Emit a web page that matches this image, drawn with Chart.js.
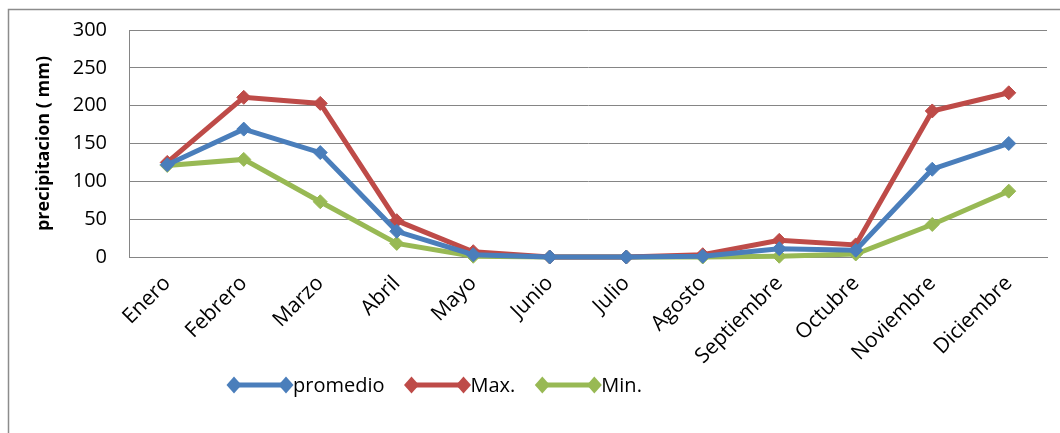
<!DOCTYPE html>
<html>
<head>
<meta charset="utf-8">
<script src="https://cdn.jsdelivr.net/npm/chart.js@4/dist/chart.umd.min.js"></script>
<style>
  html, body { margin: 0; padding: 0; background: #ffffff; }
  #wrap { width: 1060px; height: 433px; position: relative; }
</style>
</head>
<body>
<div id="wrap"><canvas id="c" width="1060" height="433"></canvas></div>
<script>
// Months on the category axis
const meses = ['Enero', 'Febrero', 'Marzo', 'Abril', 'Mayo', 'Junio', 'Julio',
  'Agosto', 'Septiembre', 'Octubre', 'Noviembre', 'Diciembre'];

// Monthly precipitation (mm)
const promedio = [122, 169, 138, 34, 3, 0, 0, 1, 11, 9, 116, 150];
const maximo   = [125, 211, 203, 48, 7, 0, 0, 3, 22, 16, 193, 217];
const minimo   = [121, 129, 73, 18, 1, 0, 0, 0, 1, 4, 43, 87];

// Value axis ticks
const yTicks = [0, 50, 100, 150, 200, 250, 300];

const FONT = '"Open Sans", "DejaVu Sans", sans-serif';
const GRID = '#858585';

function serie(label, data, color) {
  return {
    label, data,
    borderColor: color, backgroundColor: color,
    borderWidth: 5,
    pointStyle: 'rectRot', pointRadius: 7, pointHoverRadius: 7,
    pointBorderWidth: 1, pointBorderColor: color, pointBackgroundColor: color,
    tension: 0, clip: false
  };
}

// Outer frame (top and left edges)
const frame = {
  id: 'frame',
  beforeDraw(chart) {
    const ctx = chart.ctx;
    ctx.save();
    ctx.strokeStyle = '#8c8c8c';
    ctx.lineWidth = 1.5;
    ctx.beginPath();
    ctx.moveTo(8.5, 433);
    ctx.lineTo(8.5, 9.5);
    ctx.lineTo(1060, 9.5);
    ctx.stroke();
    ctx.restore();
  }
};

// Bottom legend: line with a diamond at each end, label right after
const lineLegend = {
  id: 'lineLegend',
  afterDraw(chart) {
    const ctx = chart.ctx;
    const y = 385;
    let x = 227;
    ctx.save();
    ctx.font = '20px ' + FONT;
    ctx.textBaseline = 'middle';
    chart.data.datasets.forEach(ds => {
      const c = ds.borderColor;
      ctx.strokeStyle = c;
      ctx.fillStyle = c;
      ctx.lineWidth = 5;
      ctx.beginPath();
      ctx.moveTo(x + 7, y);
      ctx.lineTo(x + 59, y);
      ctx.stroke();
      [x + 7, x + 59].forEach(cx => {
        ctx.beginPath();
        ctx.moveTo(cx - 7.5, y);
        ctx.lineTo(cx, y - 8.5);
        ctx.lineTo(cx + 7.5, y);
        ctx.lineTo(cx, y + 8.5);
        ctx.closePath();
        ctx.fill();
      });
      ctx.fillStyle = '#000000';
      ctx.fillText(ds.label, x + 66, y + 1);
      x += 66 + ctx.measureText(ds.label).width + 20;
    });
    ctx.restore();
  }
};

new Chart(document.getElementById('c'), {
  type: 'line',
  data: {
    labels: meses,
    datasets: [
      serie('promedio', promedio, '#4a7ebb'),
      serie('Max.', maximo, '#be4b48'),
      serie('Min.', minimo, '#98b954')
    ]
  },
  options: {
    responsive: false,
    animation: false,
    events: [],
    layout: { padding: { left: 0, right: 13, top: 30, bottom: 0 } },
    plugins: {
      legend: { display: false },
      tooltip: { enabled: false },
      title: { display: false }
    },
    scales: {
      x: {
        offset: true,
        grid: { display: false, drawTicks: false },
        border: { display: true, color: GRID, width: 1 },
        ticks: {
          color: '#000000',
          font: { family: FONT, size: 21 },
          minRotation: 45, maxRotation: 45,
          padding: 14,
          autoSkip: false
        },
        afterFit(scale) { scale.height = 176; }
      },
      y: {
        min: 0, max: 300,
        afterBuildTicks(scale) { scale.ticks = yTicks.map(v => ({ value: v })); },
        grid: { color: GRID, lineWidth: 1, drawTicks: false },
        border: { display: true, color: GRID, width: 1 },
        ticks: {
          color: '#000000',
          font: { family: FONT, size: 20 },
          padding: 22
        },
        title: {
          display: true,
          text: 'precipitacion ( mm)',
          color: '#000000',
          font: { family: FONT, size: 18, weight: 'bold' },
          padding: { top: 33, bottom: 0 }
        },
        afterFit(scale) {
          scale.width = 129;
          scale.paddingTop = 0;
          scale.paddingBottom = 0;
        }
      }
    }
  },
  plugins: [frame, lineLegend]
});
</script>
</body>
</html>
